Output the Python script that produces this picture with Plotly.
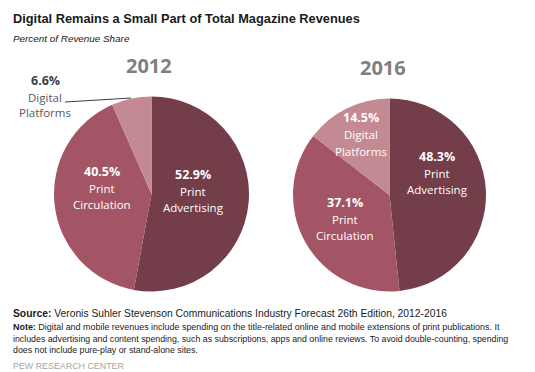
import plotly.graph_objects as go

# ---- data ----
years = ["2012", "2016"]
categories = ["Print Advertising", "Print Circulation", "Digital Platforms"]
label_lines = [["Print", "Advertising"], ["Print", "Circulation"], ["Digital", "Platforms"]]
values_2012 = [52.9, 40.5, 6.6]
values_2016 = [48.3, 37.1, 14.5]

colors = ["#733D4A", "#A35565", "#C48A93"]
W, H = 535, 372

fig = go.Figure()

# pie geometry (pixels): center x, center y (from top), radius
geo = [(143.5, 186, 97.5), (381.5, 187, 96.5)]

for vals, (cx, cy, r), yr in zip([values_2012, values_2016], geo, years):
    fig.add_trace(go.Pie(
        labels=categories, values=vals, sort=False, direction="clockwise",
        rotation=0, marker=dict(colors=colors, line=dict(width=0)),
        textinfo="none", hoverinfo="label+value", showlegend=False,
        domain=dict(x=[(cx - r) / W, (cx + r) / W],
                    y=[1 - (cy + r) / H, 1 - (cy - r) / H]),
    ))

def px(x):
    return x / W

def py(y):
    return 1 - y / H

ann = []
# label positions (pixel coords: x center, y of percent line), text color
label_pos = {
    "2012": [(185, 166, "white"), (94, 163, "white"), (37, 72, "dark")],
    "2016": [(429, 148, "white"), (337, 194, "white"), (353, 110, "white")],
}
for yr, vals in zip(years, [values_2012, values_2016]):
    for i, v in enumerate(vals):
        x, y, col = label_pos[yr][i]
        pc = "#FFFFFF" if col == "white" else "#404040"
        tc = "#FFFFFF" if col == "white" else "#595959"
        ann.append(dict(x=px(x), y=py(y), xref="paper", yref="paper",
                        text="<b>%.1f%%</b>" % v, showarrow=False,
                        font=dict(family="Open Sans", size=12.5, color=pc),
                        xanchor="center", yanchor="middle"))
        for j, line in enumerate(label_lines[i]):
            ann.append(dict(x=px(x), y=py(y + 17 + 16 * j), xref="paper", yref="paper",
                            text=line, showarrow=False,
                            font=dict(family="Open Sans", size=11.5, color=tc),
                            xanchor="center", yanchor="middle"))

# year titles
for yr, (x, y) in zip(years, [(141, 58), (375, 60)]):
    ann.append(dict(x=px(x), y=py(y), xref="paper", yref="paper", text="<b>%s</b>" % yr,
                    showarrow=False, font=dict(family="Open Sans", size=20, color="#7F7F7F"),
                    xanchor="center", yanchor="middle"))

# title / subtitle
ann.append(dict(x=px(3), y=py(11), xref="paper", yref="paper",
                text="<b>Digital Remains a Small Part of Total Magazine Revenues</b>",
                showarrow=False, font=dict(family="Liberation Sans", size=12.8, color="#1a1a1a"),
                xanchor="left", yanchor="middle"))
ann.append(dict(x=px(3), y=py(30), xref="paper", yref="paper",
                text="<i>Percent of Revenue Share</i>",
                showarrow=False, font=dict(family="Liberation Sans", size=9.9, color="#1a1a1a"),
                xanchor="left", yanchor="middle"))

footer = [
    ("<b>Source:</b> Veronis Suhler Stevenson Communications Industry Forecast 26th Edition, 2012-2016", 305, "#1a1a1a", 10.3),
    ("<b>Note:</b> Digital and mobile revenues include spending on the title-related online and mobile extensions of print publications. It", 319, "#1a1a1a", 8.95),
    ("includes advertising and content spending, such as subscriptions, apps and online reviews. To avoid double-counting, spending", 331, "#1a1a1a", 8.8),
    ("does not include pure-play or stand-alone sites.", 342, "#1a1a1a", 8.8),
    ("PEW RESEARCH CENTER", 358, "#A6A6A6", 8.9),
]
for txt, y, c, s in footer:
    ann.append(dict(x=px(3), y=py(y), xref="paper", yref="paper", text=txt,
                    showarrow=False, font=dict(family="Liberation Sans", size=s, color=c),
                    xanchor="left", yanchor="middle"))

fig.update_layout(
    width=W, height=H, margin=dict(l=0, r=0, t=0, b=0),
    paper_bgcolor="white", plot_bgcolor="white",
    annotations=ann,
    shapes=[dict(type="line", xref="paper", yref="paper",
                 x0=px(57), y0=py(94), x1=px(123), y1=py(90),
                 line=dict(color="#404040", width=1))],
)

fig.write_html("out.html")
